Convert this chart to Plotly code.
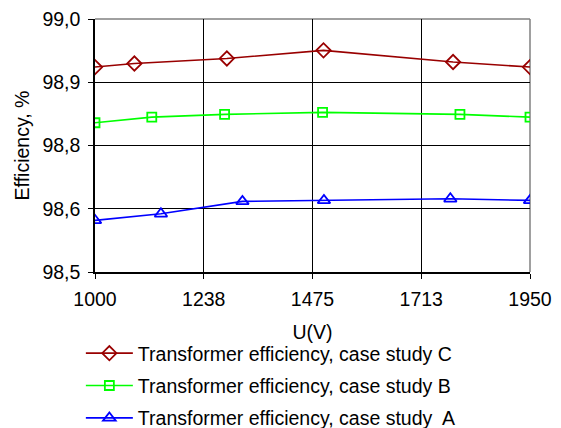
import plotly.graph_objects as go

# Data
u_c = [1000, 1086, 1288, 1499, 1782, 1950]
eff_c = [98.905, 98.912, 98.922, 98.938, 98.915, 98.905]

u_b = [1000, 1124, 1283, 1497, 1797, 1950]
eff_b = [98.795, 98.806, 98.8115, 98.8155, 98.8115, 98.806]

u_a = [1000, 1144, 1322, 1500, 1776, 1950]
eff_a = [98.602, 98.615, 98.6395, 98.6415, 98.6447, 98.6415]

series_names = [
    "Transformer efficiency, case study C",
    "Transformer efficiency, case study B",
    "Transformer efficiency, case study  A",
]

x_tickvals = [1000, 1237.5, 1475, 1712.5, 1950]
x_ticktext = ["1000", "1238", "1475", "1713", "1950"]
y_tickvals = [98.5, 98.625, 98.75, 98.875, 99.0]
y_ticktext = ["98,5", "98,6", "98,8", "98,9", "99,0"]

FONT = "Liberation Sans, Arial, sans-serif"
FS = 19.5

fig = go.Figure()
specs = [
    (u_c, eff_c, series_names[0], "#990000", "diamond-open", 11),
    (u_b, eff_b, series_names[1], "#00FF00", "square-open", 9),
    (u_a, eff_a, series_names[2], "#0000FF", "triangle-up-open", 11),
]
for i, (xs, ys, name, color, sym, size) in enumerate(specs):
    fig.add_trace(go.Scatter(
        x=xs, y=ys, name=name, mode="lines+markers",
        line=dict(color=color, width=1.6),
        marker=dict(symbol=sym, size=size, color=color,
                    line=dict(color=color, width=1.8)),
        legendgroup=f"g{i}",
    ))

# gray top/right frame
fig.add_shape(type="line", xref="paper", yref="paper", x0=0, x1=1, y0=1, y1=1,
              line=dict(color="#808080", width=1.5), layer="between")
fig.add_shape(type="line", xref="paper", yref="paper", x0=1, x1=1, y0=0, y1=1,
              line=dict(color="#808080", width=1.5), layer="between")

# the page body has an 8px margin, so the figure is sized to the visible area
fig.update_layout(
    width=553, height=420,
    margin=dict(l=87, r=31, t=11, b=156, autoexpand=False),
    paper_bgcolor="white", plot_bgcolor="white",
    font=dict(family=FONT, size=FS, color="black"),
    showlegend=True,
    legend=dict(
        x=-0.0325, y=-0.245, xanchor="left", yanchor="top",
        font=dict(family=FONT, size=FS, color="black"),
        tracegroupgap=4, traceorder="grouped",
        itemwidth=47,
        bgcolor="rgba(0,0,0,0)",
    ),
    xaxis=dict(
        range=[1000, 1950], tickvals=x_tickvals, ticktext=x_ticktext,
        showgrid=True, gridcolor="black", gridwidth=1,
        showline=True, linecolor="black", linewidth=1.5,
        ticks="outside", ticklen=5, tickcolor="black",
        zeroline=False,
        ticklabelstandoff=4, ticklabeloverflow="allow",
        title=dict(text="U(V)", font=dict(family=FONT, size=FS), standoff=16),
    ),
    yaxis=dict(
        range=[98.5, 99.0], tickvals=y_tickvals, ticktext=y_ticktext,
        showgrid=True, gridcolor="black", gridwidth=1,
        showline=True, linecolor="black", linewidth=1.5,
        ticks="outside", ticklen=5, tickcolor="black",
        zeroline=False,
        ticklabelstandoff=4, ticklabeloverflow="allow",
        title=dict(text="Efficiency, %", font=dict(family=FONT, size=FS), standoff=8),
    ),
)

fig.write_html("out.html")
